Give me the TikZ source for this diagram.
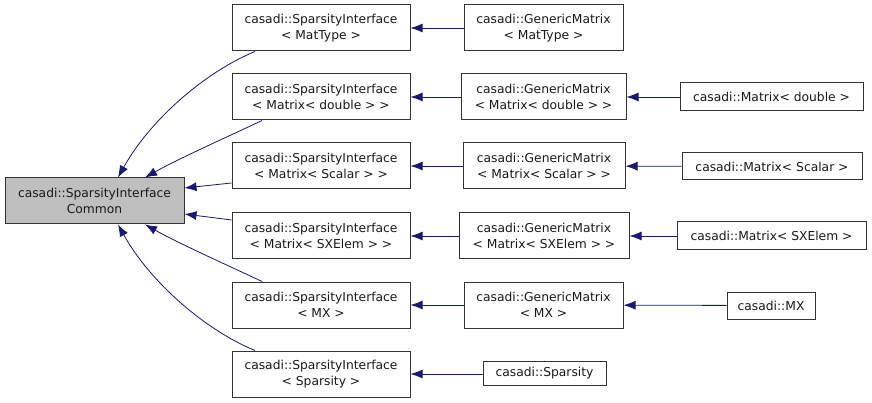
\documentclass[tikz,border=0pt]{standalone}
\usepackage{fontspec}
\setmainfont{DejaVu Sans}
\usetikzlibrary{arrows.meta}
\definecolor{edgec}{HTML}{191970}
\definecolor{boxc}{HTML}{333333}
\definecolor{rootfill}{HTML}{BFBFBF}
\begin{document}
\begin{tikzpicture}[x=1pt,y=-1pt,
  box/.style={draw=boxc,line width=1pt,rectangle,inner sep=0pt,align=center,
    font=\fontsize{12.3}{16.5}\selectfont,text=black!90},
  edge/.style={draw=edgec,line width=0.8pt,-{Latex[length=12pt,width=9pt]}}]
\useasboundingbox (0,0) rectangle (872,403);
\node[box,fill=rootfill,minimum width=179pt,minimum height=46pt] (root) at (94.5,201) {casadi::SparsityInterface\\Common};
\node[box,minimum width=178pt,minimum height=46pt] (s1) at (321,28) {casadi::SparsityInterface\\< MatType >};
\node[box,minimum width=178pt,minimum height=46pt] (s2) at (321,97) {casadi::SparsityInterface\\< Matrix< double > >};
\node[box,minimum width=178pt,minimum height=46pt] (s3) at (321,166) {casadi::SparsityInterface\\< Matrix< Scalar > >};
\node[box,minimum width=178pt,minimum height=46pt] (s4) at (321,236) {casadi::SparsityInterface\\< Matrix< SXElem > >};
\node[box,minimum width=178pt,minimum height=46pt] (s5) at (321,305) {casadi::SparsityInterface\\< MX >};
\node[box,minimum width=178pt,minimum height=46pt] (s6) at (321,374) {casadi::SparsityInterface\\< Sparsity >};
\node[box,minimum width=159pt,minimum height=46pt] (g1) at (543.5,28) {casadi::GenericMatrix\\< MatType >};
\node[box,minimum width=165pt,minimum height=46pt] (g2) at (543.5,97) {casadi::GenericMatrix\\< Matrix< double > >};
\node[box,minimum width=162pt,minimum height=46pt] (g3) at (544,166) {casadi::GenericMatrix\\< Matrix< Scalar > >};
\node[box,minimum width=170pt,minimum height=46pt] (g4) at (544,236) {casadi::GenericMatrix\\< Matrix< SXElem > >};
\node[box,minimum width=159pt,minimum height=46pt] (g5) at (543.5,305) {casadi::GenericMatrix\\< MX >};
\node[box,minimum width=123pt,minimum height=24pt] (sp) at (544.5,373) {casadi::Sparsity};
\node[box,minimum width=183pt,minimum height=28pt] (m1) at (771.5,97) {casadi::Matrix< double >};
\node[box,minimum width=180pt,minimum height=27pt] (m2) at (772,166.5) {casadi::Matrix< Scalar >};
\node[box,minimum width=189pt,minimum height=28pt] (m3) at (771.5,236) {casadi::Matrix< SXElem >};
\node[box,minimum width=88pt,minimum height=27pt] (m4) at (771,305.5) {casadi::MX};
% horizontal edges
\draw[edge] (g1) -- (s1);
\draw[edge] (g2) -- (s2);
\draw[edge] (g3) -- (s3);
\draw[edge] (g4) -- (s4);
\draw[edge] (g5) -- (s5);
\draw[edge] (sp) -- (s6 -| sp.west) -- (s6);
\draw[edge] (m1) -- (g2);
\draw[edge] (m2) -- (g3);
\draw[edge] (m3) -- (g4);
\draw[edge] (m4) -- (g5);
% edges into root
\draw[edge] ([xshift=-66pt]s1.south) .. controls (205,72) and (150,120) .. ([xshift=23.5pt]root.north);
\draw[edge] ([xshift=-59pt]s2.south) .. controls (225,138) and (180,158) .. ([xshift=50.5pt]root.north);
\draw[edge] (s3.west |- 0,183) -- (root.east |- 0,188);
\draw[edge] (s4.west |- 0,220) -- (root.east |- 0,214);
\draw[edge] ([xshift=-59pt]s5.north) .. controls (225,264) and (180,244) .. ([xshift=50.5pt]root.south);
\draw[edge] ([xshift=-66pt]s6.north) .. controls (205,330) and (150,282) .. ([xshift=23.5pt]root.south);
\end{tikzpicture}
\end{document}
